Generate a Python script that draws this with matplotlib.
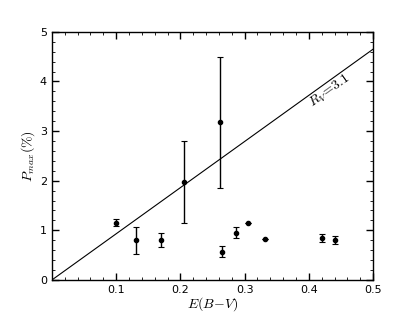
import numpy as np
import matplotlib
matplotlib.use("Agg")
import matplotlib.pyplot as plt
from matplotlib.ticker import MultipleLocator, FixedLocator

plt.rcParams['mathtext.fontset'] = 'cm'

# E(B-V) colour excess and measured Pmax (%) with errors
ebv = [0.100, 0.131, 0.170, 0.205, 0.262, 0.265, 0.286, 0.306, 0.332, 0.421, 0.440]
pmax = [1.15, 0.80, 0.80, 1.97, 3.18, 0.57, 0.95, 1.15, 0.82, 0.85, 0.81]
perr = [0.07, 0.27, 0.14, 0.83, 1.32, 0.11, 0.11, 0.0, 0.0, 0.08, 0.08]

# Serkowski upper limit, Pmax = 3 * Rv * E(B-V)
rv = 3.1
line_x = [0.0, 0.5]


def main():
    fig = plt.figure(figsize=(4.15, 3.12), dpi=100)
    ax = fig.add_axes([0.125, 0.1026, 0.774, 0.7955])

    ax.plot(line_x, [3 * rv * x for x in line_x], color='black', lw=0.8)
    ax.errorbar(ebv, pmax, yerr=perr, fmt='o', color='black', ms=3,
                elinewidth=1.0, capsize=2, capthick=0.8, ecolor='black')

    ax.text(0.433, 3.8, r'$R_V\!=\!3.1$', rotation=35.7, ha='center', va='center',
            fontsize=10)

    ax.set_xlim(0, 0.5)
    ax.set_ylim(0, 5)
    ax.xaxis.set_major_locator(FixedLocator([0.1, 0.2, 0.3, 0.4, 0.5]))
    ax.xaxis.set_minor_locator(MultipleLocator(0.02))
    ax.yaxis.set_major_locator(MultipleLocator(1))
    ax.yaxis.set_minor_locator(MultipleLocator(0.2))
    ax.tick_params(which='both', direction='in', top=True, right=True, labelsize=8)
    ax.tick_params(which='major', length=5, width=1)
    ax.tick_params(which='minor', length=2.5, width=0.6)
    for s in ax.spines.values():
        s.set_linewidth(1.0)

    ax.set_xlabel(r'$E(B\!-\!V)$', fontsize=10, labelpad=0)
    ax.set_ylabel(r'$P_{max}(\%)$', fontsize=10, labelpad=2)

    fig.savefig('out.png', dpi=100)


if __name__ == "__main__":
    main()
